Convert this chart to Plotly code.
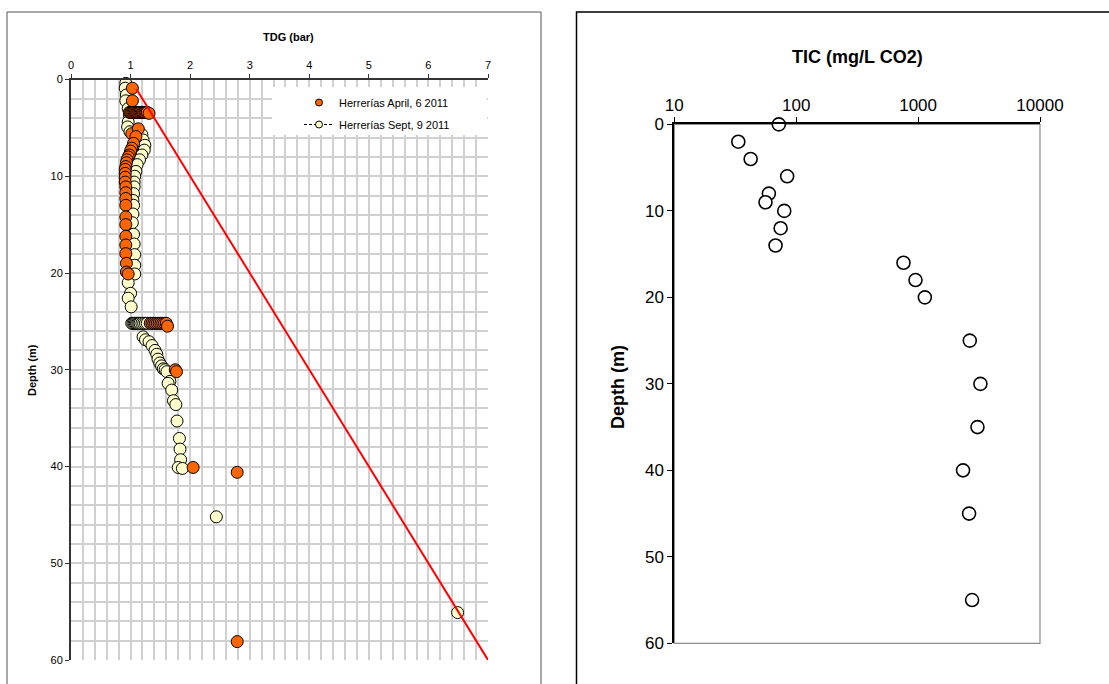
import plotly.graph_objects as go

W, H = 1109, 684
FONT = "Liberation Sans, Arial, sans-serif"

# --- TDG profiles (bar vs depth m) ---
apr_tdg = [1.03, 1.03,
           0.98, 1.00, 1.02, 1.04, 1.06, 1.08, 1.10, 1.12, 1.14, 1.16, 1.18, 1.20, 1.22, 1.24, 1.26, 1.28, 1.31,
           1.02, 1.13, 1.09, 1.05, 1.02, 1.00, 0.98, 0.96, 0.94, 0.93, 0.92, 0.91, 0.91, 0.91, 0.91,
           0.92, 0.92, 0.92, 0.92, 0.92, 0.92, 0.92, 0.92, 0.92, 0.93, 0.93, 0.96,
           1.33, 1.36, 1.39, 1.42, 1.45, 1.48, 1.51, 1.54, 1.57, 1.60, 1.62,
           1.75, 1.77, 2.05, 2.79, 2.79]
apr_depth = [0.9, 2.2,
             3.4, 3.4, 3.4, 3.4, 3.4, 3.4, 3.4, 3.4, 3.4, 3.4, 3.4, 3.4, 3.4, 3.4, 3.4, 3.4, 3.5,
             5.6, 5.1, 5.9, 6.6, 7.1, 7.4, 7.8, 8.0, 8.3, 8.6, 9.0, 9.3, 9.7, 10.1, 10.6,
             11.1, 11.7, 12.3, 13.0, 14.2, 15.0, 16.2, 17.1, 18.0, 19.0, 19.9, 20.1,
             25.2, 25.2, 25.2, 25.2, 25.2, 25.2, 25.2, 25.2, 25.2, 25.2, 25.5,
             30.0, 30.2, 40.1, 40.6, 58.1]

sep_tdg = [0.92, 0.91, 0.93, 0.92, 0.96, 0.98, 0.96, 0.95, 0.99, 1.10, 1.19,
           1.21, 1.24, 1.23, 1.19, 1.15, 1.11, 1.09, 1.07,
           1.06, 1.06, 1.05, 1.04, 1.05, 1.04, 1.03, 1.05, 1.06, 1.07, 1.07, 1.07,
           0.96, 1.00, 0.96, 1.01,
           1.02, 1.04, 1.06, 1.08, 1.10, 1.12, 1.14, 1.16, 1.19, 1.22, 1.25, 1.28,
           1.21, 1.25, 1.31, 1.36, 1.41, 1.44, 1.46, 1.49, 1.52, 1.55, 1.58, 1.61,
           1.66, 1.63, 1.69, 1.72, 1.76, 1.78, 1.82, 1.83, 1.84, 1.80, 1.87,
           None, 2.44, None, 6.49, None, 4.07]
sep_depth = [0.4, 0.9, 1.6, 2.2, 3.0, 3.7, 4.4, 4.9, 5.4, 5.6, 5.7,
             6.25, 6.8, 7.3, 7.8, 8.3, 8.8, 9.5, 10.0,
             10.6, 11.1, 11.8, 12.5, 13.0, 13.9, 14.8, 16.0, 17.0, 18.1, 19.2, 20.1,
             21.0, 22.1, 22.6, 23.5,
             25.2, 25.2, 25.2, 25.2, 25.2, 25.2, 25.2, 25.2, 25.2, 25.2, 25.2, 25.2,
             26.6, 26.9, 27.1, 27.5, 28.0, 28.4, 28.9, 29.3, 29.6, 29.9, 30.0, 30.2,
             31.2, 31.4, 32.1, 33.2, 33.6, 35.3, 37.1, 38.2, 39.3, 40.1, 40.2,
             None, 45.2, None, 55.1, None, 60.1]

# hydrostatic pressure line
hydro_tdg = [1.1, 7.0]
hydro_depth = [1.0, 60.0]

# --- TIC profile (mg/L CO2 vs depth m) ---
tic_value = [72, 33.5, 42.3, 84.3, 59.7, 56, 79.8, 74.5, 67.7, 759, 952, 1136,
             2655, 3245, 3070, 2337, 2620, 2773]
tic_depth = [0, 2, 4, 6, 8, 9, 10, 12, 14, 16, 18, 20, 25, 30, 35, 40, 45, 55]

tic_ticks = [10, 100, 1000, 10000]
tic_ticklabels = ["10", "100", "1000", "10000"]

legend_names = ["Herrerías April, 6 2011", "Herrerías Sept, 9 2011"]

ORANGE = "#FF6600"
CREAM = "#FFFFCC"


def px(x):
    return x / W


def py(y):
    return 1 - y / H


fig = go.Figure()

# Sept profile with dashed connector
fig.add_trace(go.Scatter(
    x=sep_tdg, y=sep_depth, mode="lines+markers", xaxis="x", yaxis="y",
    line=dict(color="black", width=0.8, dash="dash"), connectgaps=False,
    marker=dict(size=12, color=CREAM, line=dict(color="black", width=1)),
    showlegend=False, cliponaxis=False, hoverinfo="skip"))

# April profile
fig.add_trace(go.Scatter(
    x=apr_tdg, y=apr_depth, mode="markers", xaxis="x", yaxis="y",
    marker=dict(size=12, color=ORANGE, line=dict(color="black", width=1)),
    showlegend=False, cliponaxis=False, hoverinfo="skip"))

# hydrostatic line
fig.add_trace(go.Scatter(
    x=hydro_tdg, y=hydro_depth, mode="lines", xaxis="x", yaxis="y",
    line=dict(color="#FF0000", width=2), showlegend=False, hoverinfo="skip"))

# legend entries
fig.add_trace(go.Scatter(
    x=[None], y=[None], mode="markers", name=legend_names[0], xaxis="x", yaxis="y",
    legendgroup="apr",
    marker=dict(size=7, color=ORANGE, line=dict(color="black", width=1))))
fig.add_trace(go.Scatter(
    x=[None], y=[None], mode="lines+markers", name=legend_names[1], xaxis="x", yaxis="y",
    legendgroup="sep",
    line=dict(color="black", width=1, dash="3px,2px"),
    marker=dict(size=7, color=CREAM, line=dict(color="black", width=1))))

# TIC profile
fig.add_trace(go.Scatter(
    x=tic_value, y=tic_depth, mode="markers", xaxis="x2", yaxis="y2",
    marker=dict(size=13, color="white", line=dict(color="black", width=1.6)),
    showlegend=False, cliponaxis=False, hoverinfo="skip"))

GRID = "#D0D0D0"

fig.update_layout(
    width=W, height=H, autosize=False,
    margin=dict(l=0, r=0, t=0, b=0, pad=0, autoexpand=False),
    paper_bgcolor="white", plot_bgcolor="white",
    font=dict(family=FONT, color="black"),
    xaxis=dict(
        domain=[px(71), px(488)], anchor="y", side="top", automargin=False,
        range=[0, 7], autorange=False, dtick=1, tick0=0,
        showgrid=True, gridcolor=GRID, gridwidth=1.5,
        minor=dict(dtick=0.2, showgrid=True, gridcolor=GRID, gridwidth=1.5,
                   ticks="", ticklen=0),
        showline=True, linecolor="#333333", linewidth=2,
        ticks="outside", ticklen=4, tickcolor="#333333",
        tickfont=dict(size=11), zeroline=False, fixedrange=True),
    yaxis=dict(
        domain=[py(660), py(79.5)], anchor="x", automargin=False,
        range=[60, 0], autorange=False, dtick=10, tick0=0,
        showgrid=True, gridcolor=GRID, gridwidth=1.5,
        minor=dict(dtick=2, showgrid=True, gridcolor=GRID, gridwidth=1.5,
                   ticks="", ticklen=0),
        showline=True, linecolor="#333333", linewidth=2,
        ticks="outside", ticklen=4, tickcolor="#333333",
        tickfont=dict(size=11), zeroline=False, fixedrange=True),
    xaxis2=dict(
        domain=[px(674.3), px(1040)], anchor="y2", side="top", automargin=False,
        type="log", range=[1, 4], autorange=False,
        tickvals=tic_ticks, ticktext=tic_ticklabels,
        showgrid=False, showline=True, linecolor="black", linewidth=2,
        ticks="outside", ticklen=5, tickcolor="black",
        tickfont=dict(size=17), zeroline=False, fixedrange=True),
    yaxis2=dict(
        domain=[py(643.3), py(124.4)], anchor="x2", automargin=False,
        range=[60, 0], autorange=False, dtick=10, tick0=0,
        showgrid=False, showline=True, linecolor="black", linewidth=2,
        ticks="outside", ticklen=5, tickcolor="black",
        tickfont=dict(size=17), zeroline=False, fixedrange=True),
    legend=dict(
        x=px(299), y=py(88), xanchor="left", yanchor="top",
        bgcolor="rgba(0,0,0,0)", borderwidth=0,
        font=dict(size=11, family=FONT), tracegroupgap=3),
    showlegend=True,
    shapes=[
        # legend backing box
        dict(type="rect", xref="paper", yref="paper",
             x0=px(272), x1=px(487), y0=py(135), y1=py(87),
             fillcolor="white", line=dict(width=0), layer="above"),
        # left chart frame
        dict(type="rect", xref="paper", yref="paper",
             x0=px(7), x1=px(541), y0=-0.05, y1=py(12),
             line=dict(color="#555555", width=1), fillcolor="rgba(0,0,0,0)"),
        # right chart frame
        dict(type="rect", xref="paper", yref="paper",
             x0=px(576.5), x1=1.05, y0=-0.05, y1=py(12),
             line=dict(color="black", width=1.5), fillcolor="rgba(0,0,0,0)"),
        # TIC plot area border
        dict(type="rect", xref="x2 domain", yref="y2 domain",
             x0=0, x1=1, y0=0, y1=1,
             line=dict(color="#8C8C8C", width=1.2), layer="below"),
    ],
    annotations=[
        dict(text="<b>TDG (bar)</b>", xref="paper", yref="paper",
             x=px(288), y=py(37), xanchor="center", yanchor="middle",
             showarrow=False, font=dict(size=11)),
        dict(text="<b>Depth (m)</b>", xref="paper", yref="paper",
             x=px(32), y=py(370), xanchor="center", yanchor="middle",
             showarrow=False, textangle=-90, font=dict(size=11)),
        dict(text="<b>TIC (mg/L CO2)</b>", xref="paper", yref="paper",
             x=px(858), y=py(57), xanchor="center", yanchor="middle",
             showarrow=False, font=dict(size=18)),
        dict(text="<b>Depth (m)</b>", xref="paper", yref="paper",
             x=px(618), y=py(387), xanchor="center", yanchor="middle",
             showarrow=False, textangle=-90, font=dict(size=18)),
    ],
)

fig.write_html("out.html")
